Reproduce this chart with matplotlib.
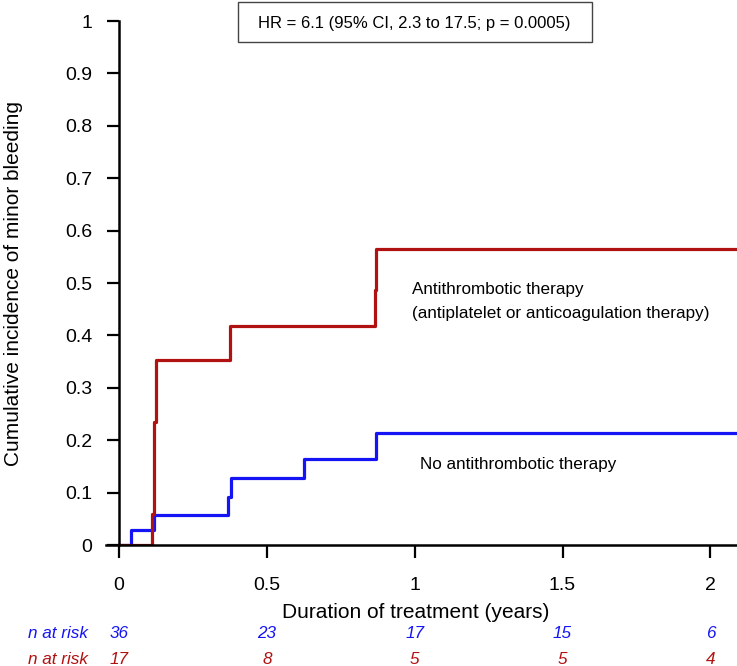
import matplotlib.pyplot as plt
from matplotlib.patches import Rectangle
import numpy as np

plt.rcParams['font.family'] = ['Liberation Sans', 'DejaVu Sans']

# step curves (time in years, cumulative incidence)
t_none = [0, 0.04, 0.12, 0.37, 0.38, 0.625, 0.87, 2.09]
y_none = [0, 0.028, 0.057, 0.092, 0.127, 0.165, 0.213, 0.213]
t_anti = [0, 0.113, 0.118, 0.124, 0.375, 0.865, 0.87, 2.09]
y_anti = [0, 0.059, 0.235, 0.353, 0.417, 0.487, 0.565, 0.565]

risk_times = [0, 0.5, 1, 1.5, 2]
risk_none = [36, 23, 17, 15, 6]
risk_anti = [17, 8, 5, 5, 4]

blue = '#1414f5'
red = '#b01212'

fig = plt.figure(figsize=(7.37, 6.66), dpi=100)
ax = fig.add_axes([106 / 737, 1 - 545 / 666, 631 / 737, 524 / 666])

ax.step(t_none, y_none, where='post', color=blue, lw=2.3)
ax.step(t_anti, y_anti, where='post', color=red, lw=2.3)

ax.set_xlim(-0.044, 2.09)
ax.set_ylim(0, 1)
ax.spines['left'].set_position(('data', 0))
ax.set_xticks(risk_times)
ax.set_xticklabels(['0', '0.5', '1', '1.5', '2'])
ax.set_yticks(np.arange(0, 1.01, 0.1))
ax.set_yticklabels(['0'] + ['%.1f' % v for v in np.arange(0.1, 0.95, 0.1)] + ['1'])
ax.tick_params(direction='out', length=9, width=1.6, labelsize=14)
ax.tick_params(axis='x', pad=14)
ax.tick_params(axis='y', pad=10)
for s in ['top', 'right']:
    ax.spines[s].set_visible(False)
for s in ['left', 'bottom']:
    ax.spines[s].set_linewidth(1.8)

ax.set_xlabel('Duration of treatment (years)', fontsize=15)
ax.xaxis.set_label_coords(0.49, -(612 - 545) / 524)
ax.xaxis.label.set_va('center')
ax.set_ylabel('Cumulative incidence of minor bleeding', fontsize=15)
ax.yaxis.set_label_coords(-(106 - 13) / 631, 0.5)
ax.yaxis.label.set_va('center')

ax.text(0.99, 0.488, 'Antithrombotic therapy', fontsize=12.3, va='center', ha='left')
ax.text(0.99, 0.442, '(antiplatelet or anticoagulation therapy)', fontsize=12.3,
        va='center', ha='left')
ax.text(1.017, 0.154, 'No antithrombotic therapy', fontsize=12.3, va='center', ha='left')

ax.text(1.0, 0.996, 'HR = 6.1 (95% CI, 2.3 to 17.5; p = 0.0005)', fontsize=12,
        ha='center', va='center')
ax.add_patch(Rectangle((0.209, 0.960), 0.561, 0.076, transform=ax.transAxes,
                       fill=False, ec='#444444', lw=1, clip_on=False))

# number at risk table
for row_y, vals, c in [(-0.168, risk_none, blue), (-0.218, risk_anti, red)]:
    ax.text(-0.208, row_y, 'n at risk', transform=ax.get_xaxis_transform(),
            color=c, fontsize=12.3, style='italic', ha='center', va='center')
    for t, v in zip(risk_times, vals):
        ax.text(t, row_y, str(v), transform=ax.get_xaxis_transform(),
                color=c, fontsize=12.3, style='italic', ha='center', va='center')

fig.savefig('out.png', dpi=100)
